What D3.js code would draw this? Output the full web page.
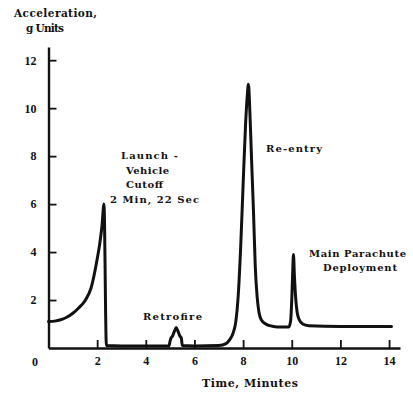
<!DOCTYPE html>
<html>
<head>
<meta charset="utf-8">
<script src="https://cdn.jsdelivr.net/npm/d3@7"></script>
<style>
  html, body { margin: 0; padding: 0; background: #fff; }
  svg { display: block; }
  text { font-family: "DejaVu Serif", "Liberation Serif", serif; font-weight: bold; fill: #111; }
  text.num { font-family: "Liberation Serif", serif; font-size: 12px; }
</style>
</head>
<body>
<svg id="chart" width="413" height="394"></svg>
<script>
// Acceleration profile over a flight: time in minutes, acceleration in g
const timeMin = [
  0, 0.25, 0.5, 0.75, 1.0, 1.25, 1.5, 1.75, 2.0, 2.1, 2.2, 2.28,
  2.38, 3.0, 4.0, 4.95,
  5.0, 5.04, 5.1, 5.17, 5.25, 5.33, 5.4, 5.46, 5.5,
  6.0, 7.0, 7.3, 7.45, 7.6, 7.7, 7.8, 7.9, 8.0, 8.1, 8.17, 8.22,
  8.28, 8.35, 8.43, 8.5, 8.58, 8.65, 8.75, 8.9, 9.1, 9.4, 9.88,
  9.95, 10.0, 10.04, 10.07, 10.11, 10.16, 10.22, 10.3, 10.45, 10.7, 12.0, 14.1
];
const accelG = [
  1.1, 1.12, 1.18, 1.28, 1.45, 1.68, 1.97, 2.5, 3.7, 4.3, 5.1, 6.0,
  0.1, 0.08, 0.08, 0.08,
  0.3, 0.42, 0.5, 0.68, 0.85, 0.68, 0.5, 0.42, 0.1,
  0.08, 0.1, 0.18, 0.35, 0.65, 1.1, 2.2, 4.2, 6.8, 9.3, 10.5, 11.0,
  9.8, 7.8, 5.6, 3.4, 2.1, 1.5, 1.17, 1.02, 0.93, 0.88, 0.88,
  1.1, 2.0, 3.2, 3.9, 3.0, 2.1, 1.5, 1.2, 1.0, 0.93, 0.9, 0.9
];
const xTicks = [2, 4, 6, 8, 10, 12, 14];
const yTicks = [2, 4, 6, 8, 10, 12];

// Event annotations: text lines with left edge, baseline and set width
const notes = [
  { lines: ["Launch -", "Vehicle", "Cutoff", "2 Min, 22 Sec"], xs: [121, 126, 126, 110], widths: [57, 43, 37, 89], y0: 159, dy: 14.7 },
  { lines: ["Retrofire"], xs: [143], widths: [59], y0: 320, dy: 0 },
  { lines: ["Re-entry"], xs: [266], widths: [56], y0: 152, dy: 0 },
  { lines: ["Main Parachute", "Deployment"], xs: [309, 323], widths: [97, 74], y0: 257, dy: 13.5 }
];

const svg = d3.select("#chart");

const x = d3.scaleLinear().domain([0, 14.45]).range([48.5, 400]);
const y = d3.scaleLinear().domain([0, 12.55]).range([348, 47]);

// Axes with inward tick marks
const xAxis = d3.axisBottom(x).tickValues(xTicks).tickSizeInner(-8).tickSizeOuter(0)
  .tickPadding(10).tickFormat(d3.format("d"));
const yAxis = d3.axisLeft(y).tickValues(yTicks).tickSizeInner(-8).tickSizeOuter(0)
  .tickPadding(12).tickFormat(d3.format("d"));

const gx = svg.append("g").attr("transform", `translate(0,${y(0)})`).call(xAxis);
const gy = svg.append("g").attr("transform", `translate(${x(0)},0)`).call(yAxis);

[gx, gy].forEach(g => {
  g.select(".domain").attr("stroke", "#111").attr("stroke-width", 2.4);
  g.selectAll(".tick line").attr("stroke", "#111").attr("stroke-width", 1.8);
  g.selectAll(".tick text").attr("class", "num");
});
gx.selectAll(".tick text").attr("dy", "0.55em");

// Origin label
svg.append("text").attr("class", "num").attr("x", 32).attr("y", 366).text("0");

// Axis titles
svg.append("text").attr("x", 14).attr("y", 17).attr("font-size", 10.5)
  .attr("textLength", 83).attr("lengthAdjust", "spacing").text("Acceleration,");
svg.append("text").attr("x", 26).attr("y", 32).attr("font-size", 10.5)
  .attr("textLength", 38).attr("lengthAdjust", "spacing").text("g Units");
svg.append("text").attr("x", 202).attr("y", 387).attr("font-size", 11)
  .attr("textLength", 96).attr("lengthAdjust", "spacing").text("Time, Minutes");

// Acceleration trace
const line = d3.line()
  .x((d, i) => x(timeMin[i]))
  .y(d => y(d))
  .curve(d3.curveMonotoneX);

svg.append("path")
  .datum(accelG)
  .attr("d", line)
  .attr("fill", "none")
  .attr("stroke", "#111")
  .attr("stroke-width", 3)
  .attr("stroke-linejoin", "round")
  .attr("stroke-linecap", "round");

// Annotations
notes.forEach(n => {
  n.lines.forEach((t, i) => {
    svg.append("text")
      .attr("x", n.xs[i])
      .attr("y", n.y0 + i * n.dy)
      .attr("font-size", 10)
      .attr("textLength", n.widths[i])
      .attr("lengthAdjust", "spacing")
      .text(t);
  });
});
</script>
</body>
</html>
